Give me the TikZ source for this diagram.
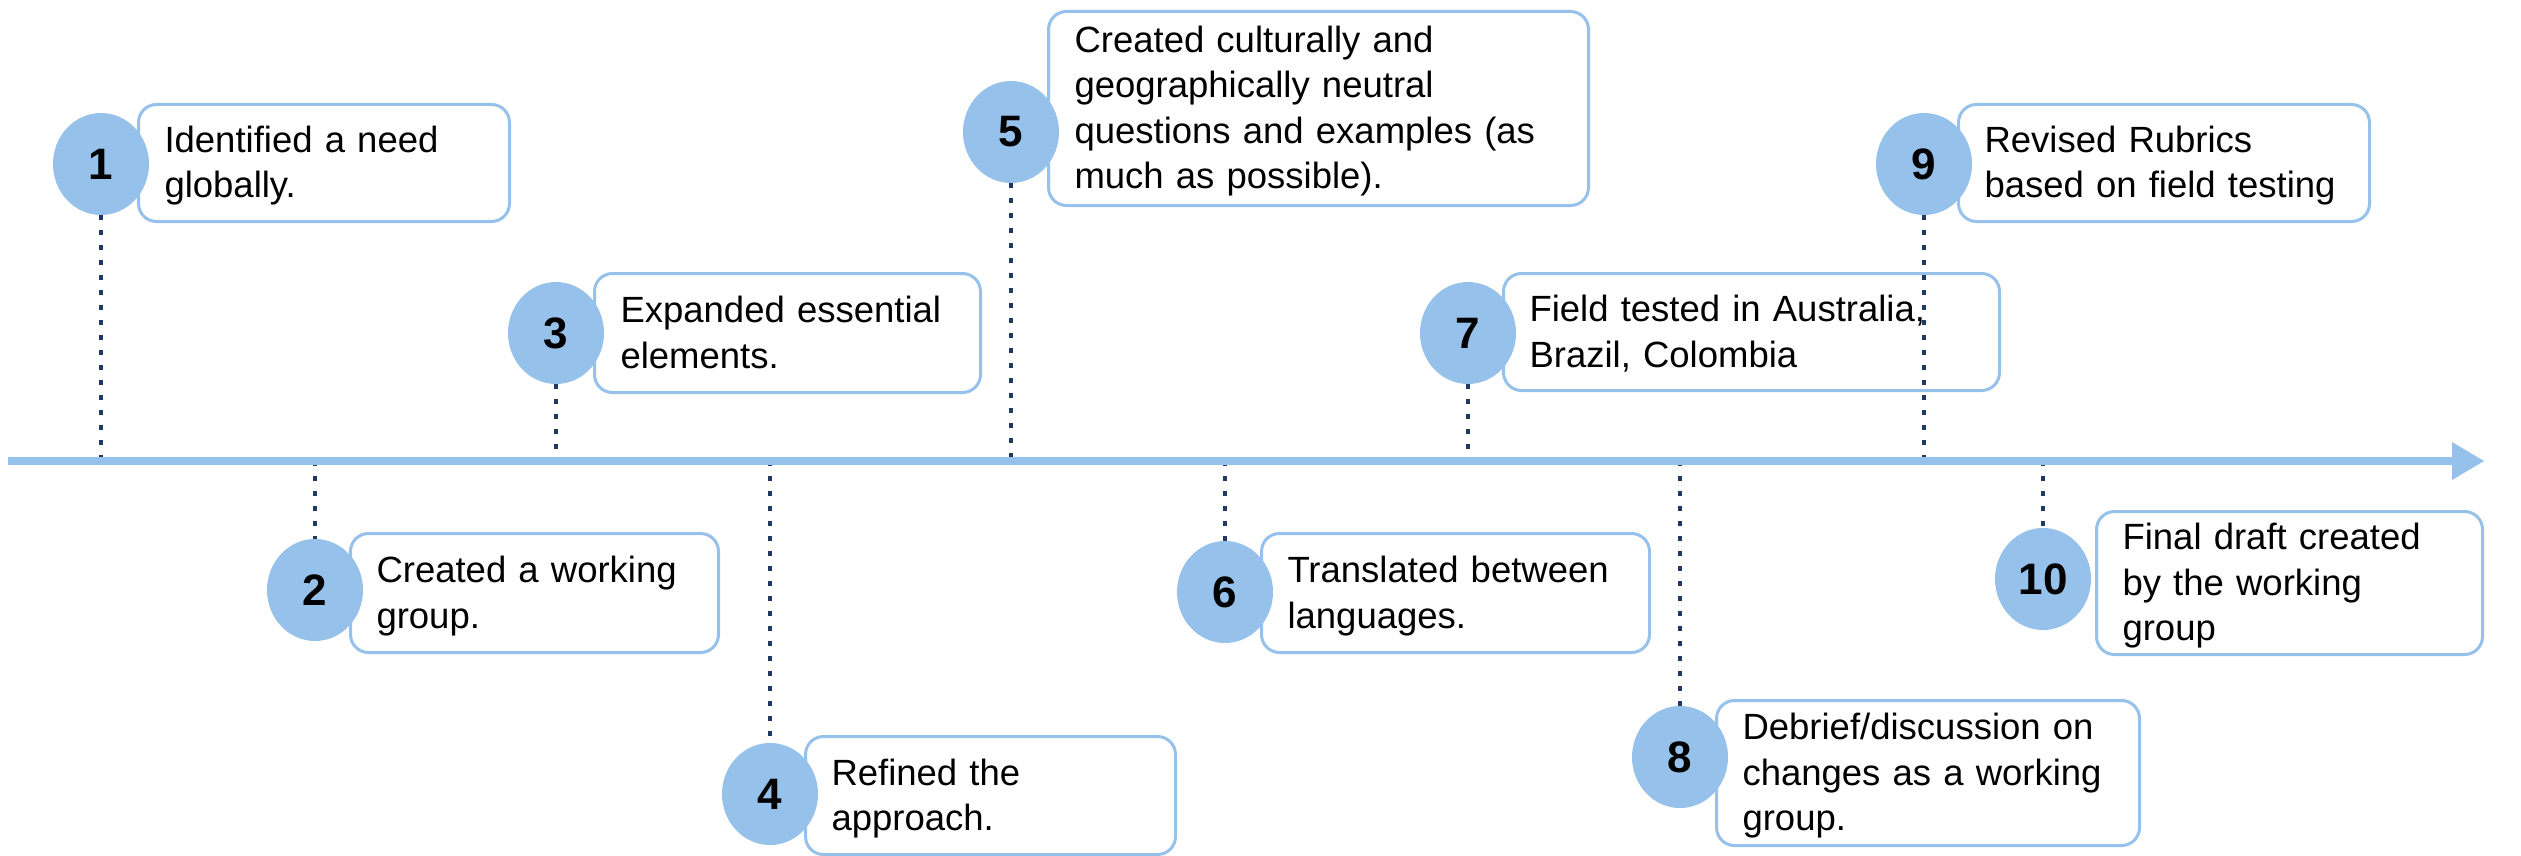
\documentclass[tikz,border=0pt]{standalone}
\usepackage{fontspec}
\setmainfont{Liberation Sans}
\usetikzlibrary{shapes.geometric}
\definecolor{lb}{HTML}{95C1EA}
\definecolor{navy}{HTML}{1F3864}
\newcommand\boxfont{\fontsize{36.5}{45.5}\selectfont}
\newcommand\numfont{\fontsize{44}{44}\selectfont\bfseries}
\newcommand\bxtop{\rule{0pt}{34.5pt}}
\newcommand\bxbot{\rule[-10pt]{0pt}{0pt}}
\tikzset{
  stepboxstyle/.style={draw=lb, line width=3pt, rounded corners=18pt, fill=white,
    align=left, inner xsep=26pt, inner ysep=0pt, font=\boxfont, anchor=north west},
  circ/.style={ellipse, fill=lb, minimum width=96pt, minimum height=102pt, inner sep=0pt, font=\numfont},
  dots/.style={draw=navy, line width=4.5pt, dash pattern=on 4.5pt off 10.5pt},
}
\begin{document}
\begin{tikzpicture}[x=1pt,y=-1pt]
\useasboundingbox (0,0) rectangle (2521,856);
% axis coordinates
\coordinate (axs) at (8,461);
\coordinate (axb) at (2452,461);
\coordinate (axe) at (2484,461);
% boxes
\node[stepboxstyle, text width=319pt, minimum height=117pt] (b1) at (137,103) {\bxtop Identified a need\\globally.\bxbot};
\node[stepboxstyle, text width=316pt, minimum height=119pt] (b2) at (349,532) {\bxtop Created a working\\group.\bxbot};
\node[stepboxstyle, text width=334pt, minimum height=119pt] (b3) at (593,272) {\bxtop Expanded essential\\elements.\bxbot};
\node[stepboxstyle, text width=318pt, minimum height=118pt] (b4) at (804,735) {\bxtop Refined the\\approach.\bxbot};
\node[stepboxstyle, text width=488pt, minimum height=194pt] (b5) at (1047,10) {\bxtop Created culturally and\\geographically neutral\\questions and examples (as\\much as possible).\bxbot};
\node[stepboxstyle, text width=336pt, minimum height=119pt] (b6) at (1260,532) {\bxtop Translated between\\languages.\bxbot};
\node[stepboxstyle, text width=444pt, minimum height=117pt] (b7) at (1502,272) {\bxtop Field tested in Australia,\\Brazil, Colombia\bxbot};
\node[stepboxstyle, text width=371pt, minimum height=145pt] (b8) at (1715,699) {\bxtop Debrief/discussion on\\changes as a working\\group.\bxbot};
\node[stepboxstyle, text width=359pt, minimum height=117pt] (b9) at (1957,103) {\bxtop Revised Rubrics\\based on field testing\bxbot};
\node[stepboxstyle, text width=334pt, minimum height=143pt] (b10) at (2095,510) {\bxtop Final draft created\\by the working\\group\bxbot};
% circles
\node[circ] (c1) at (101,164) {1};
\node[circ] (c2) at (315,590) {2};
\node[circ] (c3) at (556,333) {3};
\node[circ] (c4) at (770,794) {4};
\node[circ] (c5) at (1011,132) {5};
\node[circ] (c6) at (1225,592) {6};
\node[circ] (c7) at (1468,333) {7};
\node[circ] (c8) at (1680,757) {8};
\node[circ] (c9) at (1924,164) {9};
\node[circ] (c10) at (2043,579) {10};
% axis points
\coordinate (a1) at (101,461);
\coordinate (a2) at (315,461);
\coordinate (a3) at (556,461);
\coordinate (a4) at (770,461);
\coordinate (a5) at (1011,461);
\coordinate (a6) at (1225,461);
\coordinate (a7) at (1468,461);
\coordinate (a8) at (1680,461);
\coordinate (a9) at (1924,461);
\coordinate (a10) at (2043,461);
% dotted connectors
\draw[dots] (c1.south) -- (a1);
\draw[dots] (a2) -- (c2.north);
\draw[dots] (c3.south) -- (a3);
\draw[dots] (a4) -- (c4.north);
\draw[dots] (c5.south) -- (a5);
\draw[dots] (a6) -- (c6.north);
\draw[dots] (c7.south) -- (a7);
\draw[dots] (a8) -- (c8.north);
\draw[dots] (c9.south) -- (a9);
\draw[dots] (a10) -- (c10.north);
% axis
\draw[lb, line width=8pt] (axs) -- (axb);
\fill[lb] (2452,442) -- (axe) -- (2452,480) -- cycle;
\end{tikzpicture}
\end{document}
